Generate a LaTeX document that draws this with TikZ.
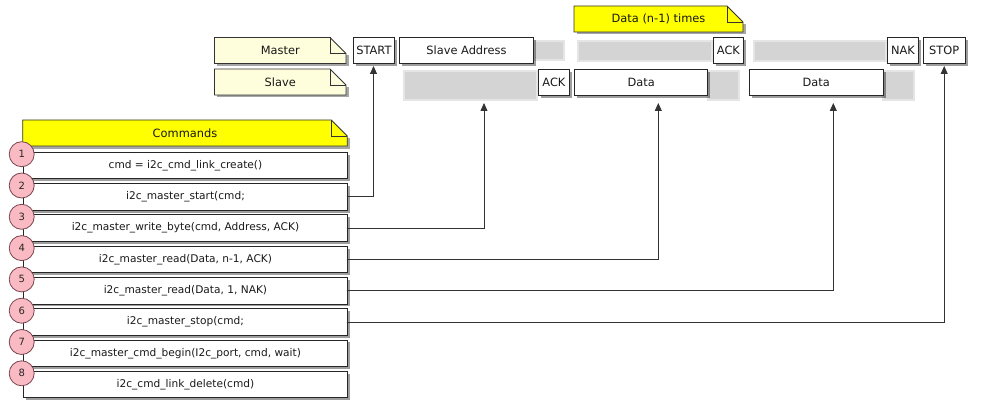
\documentclass[tikz,border=0pt]{standalone}
\usepackage{fontspec}
\setmainfont{DejaVu Sans}
\usetikzlibrary{arrows.meta,shadows}

\definecolor{notepale}{RGB}{254,254,221}
\definecolor{noteyellow}{RGB}{255,255,0}
\definecolor{steppink}{RGB}{250,186,196}
\definecolor{stepedge}{RGB}{120,70,80}
\definecolor{lanegray}{RGB}{212,212,212}

\tikzset{
  lbl/.style={font=\fontsize{10.6}{12}\selectfont, text=black!90},
  biglbl/.style={font=\fontsize{11.4}{13}\selectfont, text=black!90},
  msgbox/.style={lbl, draw=black!85, line width=0.9pt, fill=white, inner sep=0pt,
    anchor=north west, minimum height=26pt,
    drop shadow={shadow xshift=2.5pt, shadow yshift=-2.5pt, fill=black, opacity=0.38}},
  busbox/.style={msgbox, biglbl},
  cmdbox/.style={msgbox, minimum width=324.6pt, minimum height=26.6pt},
  notestyle/.style={draw=black!80, line width=0.8pt, line join=miter},
  notetext/.style={biglbl, inner sep=0pt},
  lane/.style={fill=lanegray, draw=lanegray!60!white, line width=1.8pt},
  stepnum/.style={circle, draw=stepedge, line width=0.8pt, fill=steppink,
    minimum size=25pt, inner sep=0pt, font=\fontsize{10}{12}\selectfont, text=black!85},
  conn/.style={draw=black!80, line width=0.8pt, -{Triangle[length=8pt,width=7pt]}}
}

% folded-corner note: name, x0, y0, x1, y1, fill colour, text
\newcommand\foldnote[7]{%
  \fill[black, opacity=0.35] (#2+2.5,#3+18) -- (#4+2.5,#3+18) -- (#4+2.5,#5+2.5)
    -- (#2+2.5,#5+2.5) -- cycle;
  \draw[notestyle, fill=#6] (#2,#3) -- (#4-16,#3) -- (#4,#3+16) -- (#4,#5)
    -- (#2,#5) -- cycle;
  \draw[notestyle] (#4-16,#3) -- (#4-16,#3+16) -- (#4,#3+16);
  \node[notetext] (#1) at ({(#2+#4)/2},{(#3+#5)/2}) {#7};
}

\begin{document}
\begin{tikzpicture}[x=1pt, y=-1pt]
\useasboundingbox (0,0) rectangle (989,412);

% bus lanes
\path[lane] (534,41) rectangle (564,60);
\path[lane] (578,41) rectangle (712,61);
\path[lane] (754,41) rectangle (886,61);
\path[lane] (404,71) rectangle (537,100);
\path[lane] (708,71) rectangle (739,100);
\path[lane] (883,71) rectangle (914,100);

% notes
\foldnote{mnote}{214.5}{37.5}{346}{63.5}{notepale}{Master}
\foldnote{snote}{214.5}{69}{346}{95}{notepale}{Slave}
\foldnote{rnote}{574}{6}{743}{32}{noteyellow}{Data (n-1) times}

% master line
\node[busbox, minimum width=41.6pt] (start) at (352.7,37.3) {START};
\node[busbox, minimum width=133.4pt] (addr) at (399.3,37.3) {Slave Address};
\node[busbox, minimum width=30.6pt] (mack) at (712.7,37.3) {ACK};
\node[busbox, minimum width=30.6pt] (nak) at (887.2,37.3) {NAK};
\node[busbox, minimum width=41.6pt] (stop) at (923,37.3) {STOP};

% slave line
\node[busbox, minimum width=30.6pt] (sack) at (538.2,69) {ACK};
\node[busbox, minimum width=133.4pt] (data1) at (574,69) {Data};
\node[busbox, minimum width=134pt] (data2) at (748.7,68.7) {Data};

% command list
\foldnote{cnote}{22.7}{120}{347.3}{146}{noteyellow}{Commands}
\foreach \k/\txt in {1/{cmd = i2c\_cmd\_link\_create()},
                     2/{i2c\_master\_start(cmd;},
                     3/{i2c\_master\_write\_byte(cmd, Address, ACK)},
                     4/{i2c\_master\_read(Data, n-1, ACK)},
                     5/{i2c\_master\_read(Data, 1, NAK)},
                     6/{i2c\_master\_stop(cmd;},
                     7/{i2c\_master\_cmd\_begin(I2c\_port, cmd, wait)},
                     8/{i2c\_cmd\_link\_delete(cmd)}} {
  \node[cmdbox] (c\k) at (22.7,{151.7+31.3*(\k-1)}) {\txt};
}
\foreach \k in {1,...,8} {
  \node[stepnum] (n\k) at (21.7,{154.2+31.3*(\k-1)}) {\k};
}

% arrow ends below the master and slave lines
\coordinate (tsa) at (484,103);
\coordinate (td1) at (658.3,103);
\coordinate (td2) at (833.3,103);
\coordinate (tst) at (373.5,66);
\coordinate (tsp) at (944.2,66);

% connectors
\draw[conn] (c2.east) -| (tst);
\draw[conn] (c3.east) -| (tsa);
\draw[conn] (c4.east) -| (td1);
\draw[conn] (c5.east) -| (td2);
\draw[conn] (c6.east) -| (tsp);
\end{tikzpicture}
\end{document}
